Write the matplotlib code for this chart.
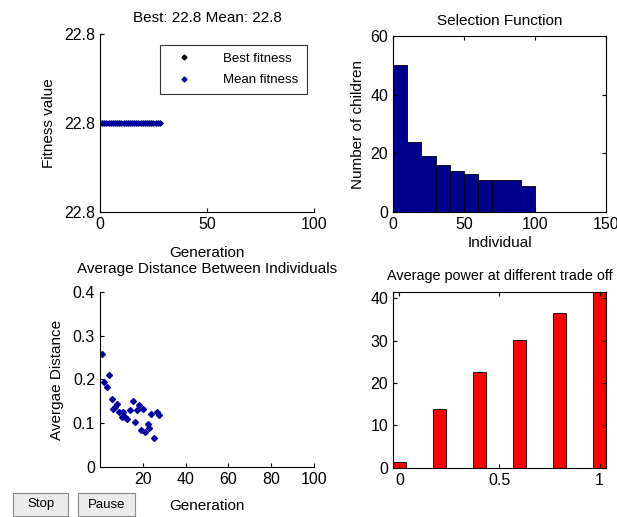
import numpy as np
import matplotlib
matplotlib.use("Agg")
import matplotlib.pyplot as plt

plt.rcParams['font.family'] = ['Liberation Sans', 'DejaVu Sans']
plt.rcParams['font.size'] = 11
plt.rcParams['xtick.labelsize'] = 11.5
plt.rcParams['ytick.labelsize'] = 11.5
plt.rcParams['xtick.direction'] = 'in'
plt.rcParams['ytick.direction'] = 'in'
plt.rcParams['xtick.major.size'] = 3
plt.rcParams['ytick.major.size'] = 3

# fitness plot: every generation at 22.8
generations = list(range(0, 29))
best_fitness = [22.8] * len(generations)
mean_fitness = [22.8] * len(generations)

# selection histogram (bins of 10 individuals)
bin_left = [0, 10, 20, 30, 40, 50, 60, 70, 80, 90]
children = [50, 24, 19, 16, 14, 13, 11, 11, 11, 9]

# average distance between individuals
dist_gen = [0.9, 2.0, 3.1, 4.2, 5.5, 6.2, 7.2, 8.1, 9.0, 10.1, 10.9, 11.7, 12.5, 14.0,
            15.3, 16.2, 17.1, 18.1, 19.0, 20.2, 21.2, 22.3, 22.9, 23.7, 25.2, 26.5, 27.7]
avg_dist = [0.258, 0.194, 0.183, 0.211, 0.156, 0.133, 0.137, 0.145, 0.126, 0.114, 0.126,
            0.114, 0.110, 0.130, 0.150, 0.103, 0.130, 0.141, 0.084, 0.133, 0.080, 0.098,
            0.088, 0.120, 0.066, 0.126, 0.118]

# average power vs trade off
trade_off = [0, 0.2, 0.4, 0.6, 0.8, 1.0]
avg_power = [1.4, 13.9, 22.7, 30.2, 36.5, 41.4]

fig = plt.figure(figsize=(6.17, 5.17), dpi=100)

# top left
ax1 = fig.add_axes([0.162, 0.590, 0.347, 0.344])
ax1.plot(generations, best_fitness, 'D', color='black', ms=2.5, label='Best fitness')
ax1.plot(generations, mean_fitness, 'D', color='#0000a0', ms=2.5, label='Mean fitness')
ax1.set_xlim(0, 100)
ax1.set_ylim(22.8 - 0.001, 22.8 + 0.001)
ax1.set_yticks([22.8 - 0.001, 22.8, 22.8 + 0.001])
ax1.set_yticklabels(['22.8', '22.8', '22.8'])
ax1.set_xticks([0, 50, 100])
ax1.spines['top'].set_visible(False)
ax1.spines['right'].set_visible(False)
ax1.set_title('Best: 22.8 Mean: 22.8', fontsize=11, pad=9)
ax1.set_xlabel('Generation', labelpad=10)
ax1.set_ylabel('Fitness value', labelpad=6)
leg = ax1.legend(loc='upper right', bbox_to_anchor=(0.965, 0.94), fontsize=9.5, fancybox=False,
                 edgecolor='black', handletextpad=1.8, handlelength=2.4, borderpad=0.6,
                 labelspacing=0.7, borderaxespad=0)
leg.get_frame().set_linewidth(0.8)

# top right
ax2 = fig.add_axes([0.637, 0.590, 0.345, 0.340])
ax2.bar(bin_left, children, width=10, align='edge', color='#00008f', edgecolor='black', linewidth=0.6)
ax2.set_xlim(0, 150)
ax2.set_ylim(0, 60)
ax2.set_xticks([0, 50, 100, 150])
ax2.set_yticks([0, 20, 40, 60])
ax2.tick_params(top=True, right=True)
ax2.set_title('Selection Function', fontsize=11, pad=8)
ax2.set_xlabel('Individual', labelpad=3)
ax2.set_ylabel('Number of children')

# bottom left
ax3 = fig.add_axes([0.162, 0.097, 0.347, 0.338])
ax3.plot(dist_gen, avg_dist, 'D', color='#0000a0', ms=3)
ax3.set_xlim(0, 100)
ax3.set_ylim(0, 0.4)
ax3.set_xticks([20, 40, 60, 80, 100])
ax3.set_yticks([0, 0.1, 0.2, 0.3, 0.4])
ax3.set_yticklabels(['0', '0.1', '0.2', '0.3', '0.4'])
ax3.spines['top'].set_visible(False)
ax3.spines['right'].set_visible(False)
ax3.set_title('Average Distance Between Individuals', fontsize=11, pad=14)
ax3.set_xlabel('Generation', labelpad=9)
ax3.set_ylabel('Avergae Distance', labelpad=6)

# bottom right
ax4 = fig.add_axes([0.637, 0.095, 0.345, 0.340])
ax4.bar(trade_off, avg_power, width=0.063, color='red', edgecolor='black', linewidth=0.6)
ax4.set_xlim(-0.0315, 1.0315)
ax4.set_ylim(0, max(avg_power))
ax4.set_xticks([0, 0.5, 1])
ax4.set_xticklabels(['0', '0.5', '1'])
ax4.set_yticks([0, 10, 20, 30, 40])
ax4.tick_params(top=True, right=True)
ax4.set_title('Average power at different trade off', fontsize=10.4, pad=9)

# Stop / Pause buttons
for label, x0, w in [('Stop', 13, 55), ('Pause', 78, 57)]:
    bx = fig.add_axes([x0 / 617, 1 - 516 / 517, w / 617, 23 / 517])
    bx.set_xticks([])
    bx.set_yticks([])
    bx.set_facecolor('#ececec')
    for s in bx.spines.values():
        s.set_color('#8a8a8a')
    bx.text(0.5, 0.5, label, ha='center', va='center', fontsize=9.5, transform=bx.transAxes)

fig.savefig('out.png', dpi=100)
